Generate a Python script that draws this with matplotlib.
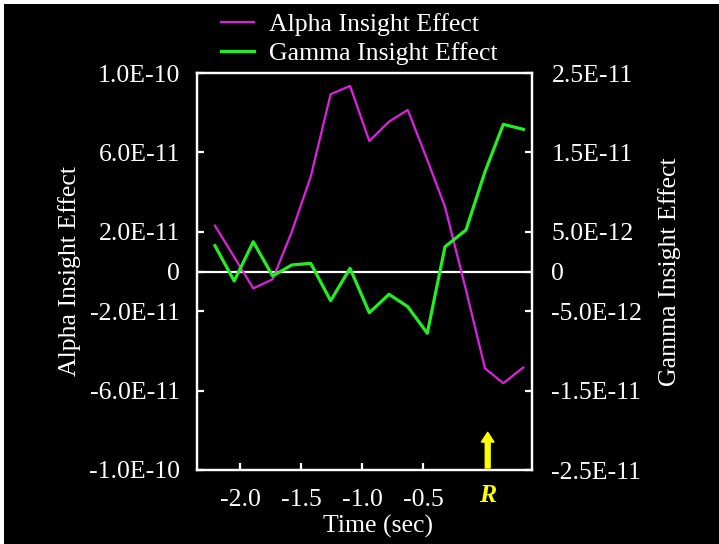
import matplotlib
matplotlib.use('Agg')
import matplotlib.pyplot as plt
from matplotlib.patches import Rectangle

# time in seconds relative to the response (R)
time = [-2.205, -2.047, -1.891, -1.732, -1.576, -1.420, -1.257, -1.098, -0.940,
        -0.779, -0.625, -0.465, -0.320, -0.148, 0.008, 0.158, 0.322]
# alpha insight effect (left axis)
alpha = [2.31e-11, 0.73e-11, -0.85e-11, -0.39e-11, 1.99e-11, 4.78e-11, 8.93e-11,
         9.35e-11, 6.57e-11, 7.55e-11, 8.14e-11, 5.62e-11, 3.26e-11, -0.93e-11,
         -4.88e-11, -5.63e-11, -4.83e-11]
# gamma insight effect (right axis)
gamma = [3.25e-12, -1.20e-12, 3.75e-12, -0.57e-12, 0.82e-12, 1.03e-12, -3.68e-12,
         0.40e-12, -5.19e-12, -2.87e-12, -4.43e-12, -7.78e-12, 3.12e-12, 5.23e-12,
         12.57e-12, 18.54e-12, 17.90e-12]

left_ticks = [1e-10, 6e-11, 2e-11, 0, -2e-11, -6e-11, -1e-10]
left_labels = ['1.0E-10', '6.0E-11', '2.0E-11', '0', '-2.0E-11', '-6.0E-11', '-1.0E-10']
right_ticks = [2.5e-11, 1.5e-11, 5e-12, 0, -5e-12, -1.5e-11, -2.5e-11]
right_labels = ['2.5E-11', '1.5E-11', '5.0E-12', '0', '-5.0E-12', '-1.5E-11', '-2.5E-11']
x_ticks = [-2.0, -1.5, -1.0, -0.5]
x_labels = ['-2.0', '-1.5', '-1.0', '-0.5']

plt.rcParams['font.family'] = ['Liberation Serif', 'DejaVu Serif']
plt.rcParams['font.size'] = 18.5

fig = plt.figure(figsize=(7.19, 5.44), dpi=100, facecolor='white')
fig.patches.append(Rectangle((4 / 719, 0), 1, 1 - 4 / 544, transform=fig.transFigure,
                             facecolor='black', edgecolor='none', zorder=-10))

ax = fig.add_axes([197 / 719, 74 / 544, 335 / 719, 397 / 544])
ax.set_facecolor('black')
ax2 = ax.twinx()

ax.axhline(0, color='white', lw=1.6, zorder=1)
l1, = ax.plot(time, alpha, color='#e020e0', lw=1.6, label='Alpha Insight Effect', zorder=3)
l2, = ax2.plot(time, gamma, color='#22ee22', lw=2.3, label='Gamma Insight Effect', zorder=3)

ax.set_xlim(-2.352, 0.393)
ax.set_ylim(-1e-10, 1e-10)
ax2.set_ylim(-2.5e-11, 2.5e-11)

ax.set_yticks(left_ticks)
ax.set_yticklabels(left_labels)
ax2.set_yticks(right_ticks)
ax2.set_yticklabels(right_labels)
ax.set_xticks(x_ticks)
ax.set_xticklabels(x_labels)

for a in (ax, ax2):
    for s in a.spines.values():
        s.set_color('white')
        s.set_linewidth(1.6)
    a.tick_params(colors='white', direction='in', length=5, width=1.6)
ax.tick_params(axis='y', pad=12)
ax.tick_params(axis='x', pad=14)
ax2.tick_params(axis='y', pad=14)

ax.set_ylabel('Alpha Insight Effect', color='white', labelpad=6)
ax2.set_ylabel('Gamma Insight Effect', color='white', labelpad=11)
fig.text(378 / 719, 1 - 526 / 544, 'Time (sec)', color='white', ha='center', va='center')

# response marker
ax.annotate('', xy=(0.03, -0.81e-10), xytext=(0.03, -0.99e-10),
            arrowprops=dict(facecolor='#ffff00', edgecolor='#ffff00', width=3.5,
                            headwidth=9, headlength=7))
fig.text(488 / 719, 1 - 496 / 544, 'R', color='#ffff00', fontweight='bold',
         fontstyle='italic', ha='center', va='center')

fig.legend(handles=[l1, l2], loc='center left', bbox_to_anchor=(221 / 719, 1 - 39 / 544),
           frameon=False, labelcolor='white', handlelength=1.3, handletextpad=0.55,
           labelspacing=0.2, borderpad=0, borderaxespad=0)

fig.savefig('out.png', dpi=100, facecolor=fig.get_facecolor())
